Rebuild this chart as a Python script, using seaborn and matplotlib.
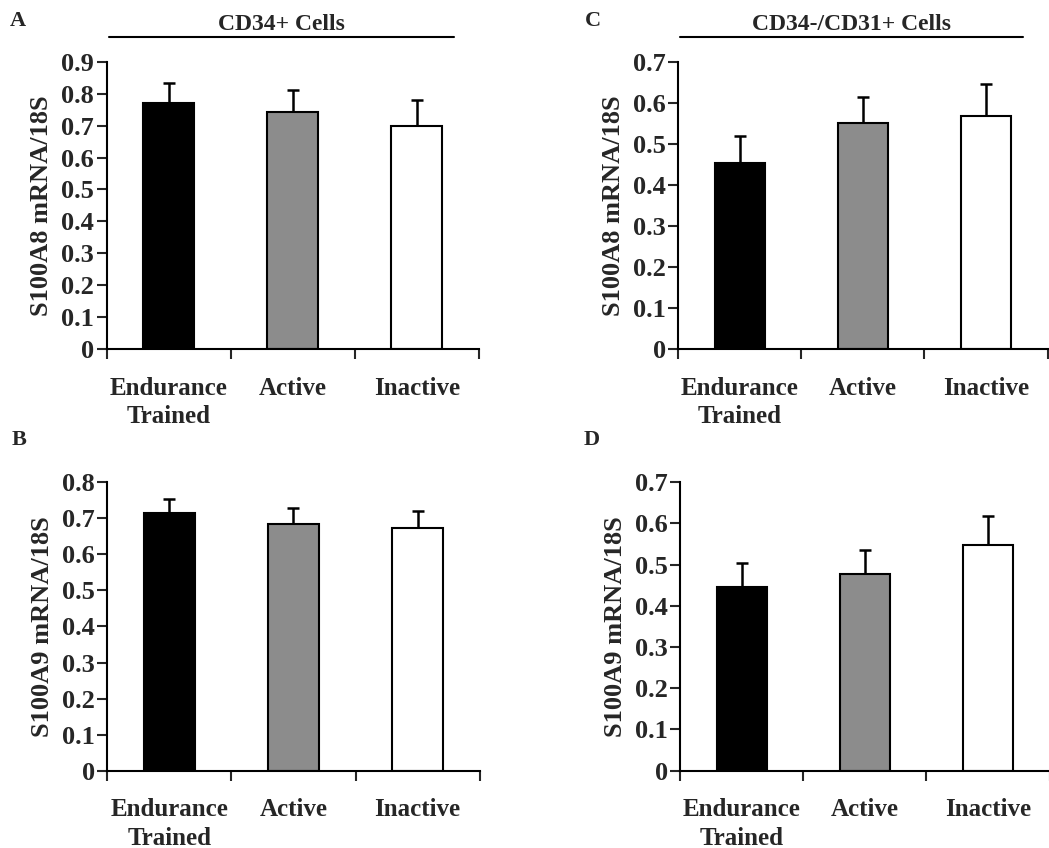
import matplotlib
matplotlib.use("Agg")
import matplotlib.pyplot as plt
import seaborn as sns
import numpy as np
import pandas as pd
from matplotlib.lines import Line2D

categories = ["Endurance\nTrained", "Active", "Inactive"]
bar_colors = ["#000000", "#8c8c8c", "#ffffff"]

# Panel A: S100A8, CD34+ cells
a_mean = [0.771, 0.744, 0.700]
a_err = [0.062, 0.066, 0.081]
# Panel B: S100A9, CD34+ cells
b_mean = [0.716, 0.684, 0.672]
b_err = [0.038, 0.044, 0.047]
# Panel C: S100A8, CD34-/CD31+ cells
c_mean = [0.453, 0.550, 0.569]
c_err = [0.066, 0.065, 0.077]
# Panel D: S100A9, CD34-/CD31+ cells
d_mean = [0.445, 0.477, 0.548]
d_err = [0.059, 0.059, 0.070]

ylabels = ["S100A8 mRNA/18S", "S100A9 mRNA/18S", "S100A8 mRNA/18S", "S100A9 mRNA/18S"]
ymaxes = [0.9, 0.8, 0.7, 0.7]
titles = ["CD34+ Cells", None, "CD34-/CD31+ Cells", None]
letters = ["A", "B", "C", "D"]

sns.set_style("ticks")
plt.rcParams["font.family"] = ["Liberation Serif", "DejaVu Serif"]
plt.rcParams["font.weight"] = "bold"

fig = plt.figure(figsize=(10.49, 8.48), dpi=100)

positions = [
    [0.1017, 0.5884, 0.3549, 0.3388],
    [0.1023, 0.0912, 0.3549, 0.3401],
    [0.6466, 0.5884, 0.3520, 0.3388],
    [0.6485, 0.0912, 0.3520, 0.3401],
]
letter_pos = [(0.017, 0.975), (0.018, 0.481), (0.565, 0.975), (0.564, 0.481)]
means = [a_mean, b_mean, c_mean, d_mean]
errs = [a_err, b_err, c_err, d_err]

for i in range(4):
    ax = fig.add_axes(positions[i])
    df = pd.DataFrame({"group": categories, "value": means[i]})
    sns.barplot(data=df, x="group", y="value", hue="group", palette=bar_colors,
                width=0.41, edgecolor="black", linewidth=1.5, legend=False, ax=ax,
                errorbar=None)
    xs = np.arange(len(categories))
    ax.errorbar(xs, means[i], yerr=[np.zeros(len(errs[i])), errs[i]], fmt="none",
                ecolor="black", elinewidth=1.8, capsize=4, capthick=1.8, zorder=1)
    for p in ax.patches:
        p.set_zorder(2)
    ax.set_xlim(-0.5, 2.5)
    ax.set_ylim(0, ymaxes[i])
    yt = np.round(np.arange(0, ymaxes[i] + 1e-9, 0.1), 1)
    ax.set_yticks(yt)
    ax.set_yticklabels(["0" if v == 0 else f"{v:.1f}" for v in yt], fontsize=19, fontweight="bold")
    ax.set_xticks(xs)
    ax.set_xticklabels(categories, fontsize=18, fontweight="bold", linespacing=1.3)
    ax.tick_params(axis="x", which="major", length=0, pad=20)
    ax.set_xticks([-0.5, 0.5, 1.5, 2.5], minor=True)
    ax.tick_params(axis="x", which="minor", length=7, width=1.5, direction="out")
    ax.tick_params(axis="y", length=7, width=1.5, direction="out", pad=2)
    ax.set_xlabel("")
    ax.set_ylabel(ylabels[i], fontsize=19, fontweight="bold", labelpad=6)
    for s in ["top", "right"]:
        ax.spines[s].set_visible(False)
    for s in ["left", "bottom"]:
        ax.spines[s].set_linewidth(1.5)
        ax.spines[s].set_color("black")
    if titles[i]:
        ax.text(0.47, 1.13, titles[i], transform=ax.transAxes, ha="center", va="center",
                fontsize=17, fontweight="bold")
        ax.add_line(Line2D([0.005, 0.933], [1.085, 1.085], transform=ax.transAxes,
                           color="black", linewidth=1.5, clip_on=False))
    fig.text(letter_pos[i][0], letter_pos[i][1], letters[i], ha="center", va="center",
             fontsize=16, fontweight="bold")

fig.savefig("out.png", dpi=100, facecolor="white")
